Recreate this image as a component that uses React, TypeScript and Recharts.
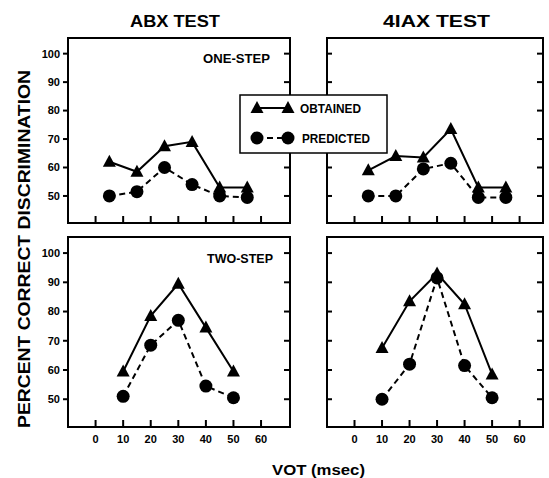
import React from "react";
import { Line, LineChart, ReferenceArea, XAxis, YAxis } from "recharts";

// VOT positions of the stimulus pairs
const oneStepVot = [5, 15, 25, 35, 45, 55];
const twoStepVot = [10, 20, 30, 40, 50];

// percent correct
const abxOneObtained = [62, 58.5, 67.5, 69, 53, 53];
const abxOnePredicted = [50, 51.5, 60, 54, 50, 49.5];
const iaxOneObtained = [59, 64, 63.5, 73.5, 53, 53];
const iaxOnePredicted = [50, 50, 59.5, 61.5, 49.5, 49.5];
const abxTwoObtained = [59.5, 78.5, 89.5, 74.5, 59.5];
const abxTwoPredicted = [51, 68.5, 77, 54.5, 50.5];
const iaxTwoObtained = [67.5, 83.5, 93, 82.5, 58.5];
const iaxTwoPredicted = [50, 62, 91.5, 61.5, 50.5];

const xTicks = [0, 10, 20, 30, 40, 50, 60];
const yTicks = [50, 60, 70, 80, 90, 100];
const yDomain: [number, number] = [40.5, 105.5];
const leftX: [number, number] = [-10, 70.5];
const rightX: [number, number] = [-10, 68.5];

const FONT = "'Liberation Sans', Arial, sans-serif";
const labelStyle = { fill: "#000", fontSize: 11, fontWeight: 700, fontFamily: FONT };

// panel frames on the page
const frames = [
  { left: 68, top: 38, width: 222, height: 185, xDomain: leftX, yLabels: true },
  { left: 327, top: 38, width: 216, height: 185, xDomain: rightX, yLabels: false },
  { left: 68, top: 237, width: 222, height: 190, xDomain: leftX, yLabels: true },
  { left: 327, top: 237, width: 216, height: 190, xDomain: rightX, yLabels: false },
];

const Triangle = (props: any) => {
  const { cx, cy } = props;
  if (cx == null || cy == null) return <g />;
  return (
    <path
      d={`M${cx},${cy - 7}L${cx + 6.5},${cy + 5}L${cx - 6.5},${cy + 5}Z`}
      fill="#000"
    />
  );
};

const Circle = (props: any) => {
  const { cx, cy } = props;
  if (cx == null || cy == null) return <g />;
  return <circle cx={cx} cy={cy} r={6.5} fill="#000" />;
};

// axis tick marks (the library's own tick lines did not show up)
const TickMarks = ({ left, top, width, height, xDomain, yLabels }: any) => {
  const sx = (v: number) => left + ((v - xDomain[0]) / (xDomain[1] - xDomain[0])) * width;
  const sy = (v: number) => top + ((yDomain[1] - v) / (yDomain[1] - yDomain[0])) * height;
  const right = left + width;
  const bottom = top + height;
  return (
    <g stroke="#000" strokeWidth={2}>
      {yTicks.map((v) => (
        <line key={`l${v}`} x1={yLabels ? left - 5 : left} x2={yLabels ? left : left + 5} y1={sy(v)} y2={sy(v)} />
      ))}
      {yTicks.map((v) => (
        <line key={`r${v}`} x1={right - 6} x2={right} y1={sy(v)} y2={sy(v)} />
      ))}
      {xTicks.map((v) => (
        <line key={`b${v}`} x1={sx(v)} x2={sx(v)} y1={bottom - 7} y2={bottom} />
      ))}
    </g>
  );
};

type PanelProps = {
  left: number;
  top: number;
  width: number;
  height: number;
  xDomain: [number, number];
  vot: number[];
  obtained: number[];
  predicted: number[];
  yLabels?: boolean;
  xLabels?: boolean;
};

const Panel = ({
  left,
  top,
  width,
  height,
  xDomain,
  vot,
  obtained,
  predicted,
  yLabels,
  xLabels,
}: PanelProps) => {
  const data = vot.map((v, i) => ({
    vot: v,
    obtained: obtained[i],
    predicted: predicted[i],
  }));
  const padL = yLabels ? 37 : 2;
  const padB = xLabels ? 24 : 4;

  return (
    <div style={{ position: "absolute", left: left - padL, top: top - 4 }}>
      <LineChart
        width={padL + width + 4}
        height={4 + height + padB}
        data={data}
        margin={{ top: 4, right: 4, bottom: xLabels ? 2 : 4, left: 2 }}
      >
        <XAxis
          xAxisId="b"
          dataKey="vot"
          type="number"
          domain={xDomain}
          ticks={xTicks}
          allowDataOverflow
          orientation="bottom"
          axisLine={false}
          tickLine={false}
          tickSize={8}
          tickMargin={0}
          height={xLabels ? 22 : 0}
          tick={xLabels ? labelStyle : false}
        />
        <YAxis
          yAxisId="l"
          type="number"
          domain={yDomain}
          ticks={yTicks}
          allowDataOverflow
          orientation="left"
          axisLine={false}
          tickLine={false}
          tickSize={5}
          tickMargin={3}
          width={yLabels ? 35 : 0}
          tick={yLabels ? labelStyle : false}
        />
        <ReferenceArea
          xAxisId="b"
          yAxisId="l"
          x1={xDomain[0]}
          x2={xDomain[1]}
          y1={yDomain[0]}
          y2={yDomain[1]}
          fill="none"
          stroke="#000"
          strokeWidth={2}
          ifOverflow="visible"
        />
        <Line
          xAxisId="b"
          yAxisId="l"
          type="linear"
          dataKey="obtained"
          stroke="#000"
          strokeWidth={2}
          dot={(p: any) => <Triangle key={`o-${p.index}`} {...p} />}
          activeDot={false}
          isAnimationActive={false}
        />
        <Line
          xAxisId="b"
          yAxisId="l"
          type="linear"
          dataKey="predicted"
          stroke="#000"
          strokeWidth={2}
          strokeDasharray="6 4"
          dot={(p: any) => <Circle key={`p-${p.index}`} {...p} />}
          activeDot={false}
          isAnimationActive={false}
        />
      </LineChart>
    </div>
  );
};

export default function App() {
  const bold = { fontFamily: FONT, fontWeight: 700, fill: "#000" };

  return (
    <div
      style={{
        position: "absolute",
        left: 0,
        top: 0,
        width: 549,
        height: 478,
        background: "#fff",
        overflow: "hidden",
      }}
    >
      <Panel {...frames[0]} vot={oneStepVot} obtained={abxOneObtained} predicted={abxOnePredicted} />
      <Panel {...frames[1]} vot={oneStepVot} obtained={iaxOneObtained} predicted={iaxOnePredicted} />
      <Panel {...frames[2]} vot={twoStepVot} obtained={abxTwoObtained} predicted={abxTwoPredicted} xLabels />
      <Panel {...frames[3]} vot={twoStepVot} obtained={iaxTwoObtained} predicted={iaxTwoPredicted} xLabels />

      <svg
        width={549}
        height={478}
        style={{ position: "absolute", left: 0, top: 0, pointerEvents: "none" }}
      >
        {frames.map((f, i) => (
          <TickMarks key={i} {...f} />
        ))}
        <text x={130} y={27} fontSize={16} textLength={90} lengthAdjust="spacingAndGlyphs" {...bold}>
          ABX TEST
        </text>
        <text x={383} y={27} fontSize={16} textLength={107} lengthAdjust="spacingAndGlyphs" {...bold}>
          4IAX TEST
        </text>
        <text x={203} y={63} fontSize={12} textLength={67} lengthAdjust="spacingAndGlyphs" {...bold}>
          ONE-STEP
        </text>
        <text x={207} y={263} fontSize={12} textLength={66} lengthAdjust="spacingAndGlyphs" {...bold}>
          TWO-STEP
        </text>
        <text
          x={0}
          y={0}
          transform="translate(30,249) rotate(-90)"
          textAnchor="middle"
          fontSize={17}
          textLength={358}
          lengthAdjust="spacingAndGlyphs"
          {...bold}
        >
          PERCENT CORRECT DISCRIMINATION
        </text>
        <text x={272} y={475} fontSize={14} textLength={93} lengthAdjust="spacingAndGlyphs" {...bold}>
          VOT (msec)
        </text>

        {/* legend */}
        <rect x={240} y={95} width={147} height={58} fill="#fff" stroke="#000" strokeWidth={1.5} />
        <line x1={257} y1={108} x2={288} y2={108} stroke="#000" strokeWidth={2} />
        <Triangle cx={257} cy={108} />
        <Triangle cx={288} cy={108} />
        <text x={300} y={113} fontSize={12} textLength={61} lengthAdjust="spacingAndGlyphs" {...bold}>
          OBTAINED
        </text>
        <line x1={257} y1={138} x2={288} y2={138} stroke="#000" strokeWidth={2} strokeDasharray="6 4" />
        <Circle cx={257} cy={138} />
        <Circle cx={288} cy={138} />
        <text x={302} y={143} fontSize={12} textLength={68} lengthAdjust="spacingAndGlyphs" {...bold}>
          PREDICTED
        </text>
      </svg>
    </div>
  );
}
